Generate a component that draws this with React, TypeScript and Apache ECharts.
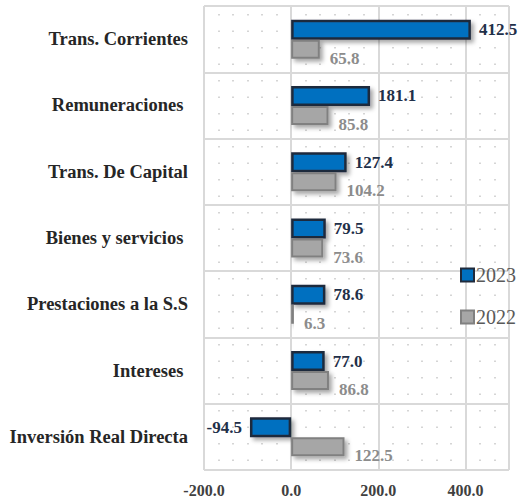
import React, { useEffect, useRef } from "react";
import * as echarts from "echarts";

const categories = [
  "Trans. Corrientes",
  "Remuneraciones ",
  "Trans. De Capital",
  "Bienes y servicios ",
  "Prestaciones a la S.S",
  "Intereses ",
  "Inversión Real Directa",
];
const values2023 = [412.5, 181.1, 127.4, 79.5, 78.6, 77.0, -94.5];
const values2022 = [65.8, 85.8, 104.2, 73.6, 6.3, 86.8, 122.5];
const seriesNames = ["2023", "2022"];

const SERIF = "Liberation Serif";

export default function App() {
  const ref = useRef<HTMLDivElement>(null);
  useEffect(() => {
    if (!ref.current) return;
    const chart = echarts.init(ref.current, null, { renderer: "svg" });
    chart.setOption({
      animation: false,
      backgroundColor: "#ffffff",
      textStyle: { fontFamily: SERIF },
      grid: { left: 204, right: 14, top: 6, bottom: 32, containLabel: false },
      legend: {
        orient: "vertical",
        left: 455,
        top: 260,
        itemWidth: 13,
        itemHeight: 13,
        itemGap: 22,
        icon: "rect",
        textStyle: { fontFamily: SERIF, fontSize: 20, color: "#595959", padding: [0, 0, 0, -3] },
        data: seriesNames,
      },
      xAxis: {
        type: "value",
        min: -200,
        max: 500,
        interval: 200,
        axisLine: { show: false },
        axisTick: { show: false },
        axisLabel: {
          formatter: (v: number) => (v === 500 ? "" : v.toFixed(1)),
          fontFamily: SERIF,
          fontWeight: "bold",
          fontSize: 16,
          color: "#404040",
          margin: 12,
          showMaxLabel: false,
        },
        splitLine: { show: true, lineStyle: { color: "#d9d9d9", width: 2 } },
        minorTick: { show: false, splitNumber: 6 },
        minorSplitLine: {
          show: true,
          lineStyle: { color: "#c8c8c8", width: 1.5, type: [1.5, 15], dashOffset: -8 },
        },
      },
      yAxis: {
        type: "category",
        inverse: true,
        data: categories,
        axisLine: { show: false },
        axisTick: { show: false },
        axisLabel: {
          formatter: (v: string) => v.replace(/ $/, "\u00a0"),
          fontFamily: SERIF,
          fontWeight: "bold",
          fontSize: 18.5,
          color: "#262626",
          margin: 16,
        },
        splitLine: { show: true, lineStyle: { color: "#d9d9d9", width: 2 } },
      },
      series: [
        {
          name: seriesNames[0],
          type: "bar",
          barWidth: 20,
          barGap: "0%",
          data: values2023.map((v) => ({
            value: v,
            label: v < 0 ? { position: "left" } : undefined,
          })),
          itemStyle: {
            color: "#0070C0",
            borderColor: "#1F2A3C",
            borderWidth: 2.5,
            shadowBlur: 4,
            shadowOffsetX: 3,
            shadowOffsetY: 3,
            shadowColor: "rgba(0,0,0,0.35)",
          },
          label: {
            show: true,
            position: "right",
            distance: 8,
            formatter: (p: any) => Number(p.value).toFixed(1),
            fontFamily: SERIF,
            fontWeight: "bold",
            fontSize: 17,
            color: "#1F3049",
          },
        },
        {
          name: seriesNames[1],
          type: "bar",
          barWidth: 19,
          data: values2022,
          itemStyle: {
            color: "#A6A6A6",
            borderColor: "#808080",
            borderWidth: 2,
            shadowBlur: 4,
            shadowOffsetX: 3,
            shadowOffsetY: 3,
            shadowColor: "rgba(0,0,0,0.35)",
          },
          label: {
            show: true,
            position: "right",
            distance: 10,
            offset: [0, 9],
            formatter: (p: any) => Number(p.value).toFixed(1),
            fontFamily: SERIF,
            fontWeight: "bold",
            fontSize: 17,
            color: "#8C8C8C",
          },
        },
      ],
    });
    return () => chart.dispose();
  }, []);
  return <div ref={ref} style={{ width: 523, height: 502, position: "absolute", left: 0, top: 0 }} />;
}
